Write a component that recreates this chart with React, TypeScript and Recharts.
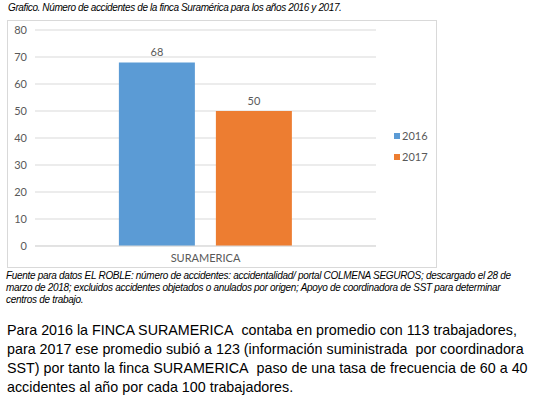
import React from "react";
import { BarChart, Bar, XAxis, YAxis, CartesianGrid, LabelList } from "recharts";

const categories = ["SURAMERICA"];
const values2016 = [68];
const values2017 = [50];
const yTicks = [0, 10, 20, 30, 40, 50, 60, 70, 80];
const seriesNames = ["2016", "2017"];

const data = categories.map((name, i) => ({ name, y2016: values2016[i], y2017: values2017[i] }));

const BLUE = "#5B9BD5";
const ORANGE = "#ED7D31";
const GREY = "#595959";
const FONT = "Lato, 'Open Sans', sans-serif";

function LegendBox() {
  const colors = [BLUE, ORANGE];
  return (
    <div style={{ position: "absolute", left: 394, top: 125, fontFamily: FONT, fontSize: 11, color: GREY }}>
      {seriesNames.map((s, i) => (
        <div key={s} style={{ display: "flex", alignItems: "center", height: 21 }}>
          <span style={{ width: 6, height: 6, background: colors[i], marginRight: 2, display: "inline-block" }} />
          {s}
        </div>
      ))}
    </div>
  );
}

export default function App() {
  const italic: React.CSSProperties = {
    position: "absolute",
    fontFamily: "'Liberation Sans', Arial, sans-serif",
    fontStyle: "italic",
    fontSize: 10,
    whiteSpace: "nowrap",
    color: "#000",
  };
  return (
    <div style={{ position: "fixed", left: 0, top: 0, width: 546, height: 398, background: "#fff" }}>
      <div style={{ ...italic, left: 8, top: 2, lineHeight: "12px", letterSpacing: -0.38 }}>
        Grafico. Número de accidentes de la finca Suramérica para los años 2016 y 2017.
      </div>
      <div style={{ position: "absolute", left: 7, top: 20, width: 430, height: 248, border: "1px solid #d9d9d9", boxSizing: "border-box" }}>
        <BarChart
          width={428}
          height={246}
          data={data}
          margin={{ top: 9, right: 60, bottom: 0, left: 1 }}
          barCategoryGap="24.6%"
          barGap={21}
        >
          <CartesianGrid vertical={false} stroke="#d9d9d9" />
          <XAxis
            dataKey="name"
            axisLine={{ stroke: "#d9d9d9" }}
            tickLine={false}
            height={21}
            tick={{ fontSize: 11, fill: GREY, fontFamily: FONT }}
          />
          <YAxis
            width={26}
            domain={[0, 80]}
            ticks={yTicks}
            axisLine={false}
            tickLine={false}
            tick={{ fontSize: 11, fill: GREY, fontFamily: FONT }}
          />
          <Bar dataKey="y2016" name={seriesNames[0]} fill={BLUE} isAnimationActive={false}>
            <LabelList dataKey="y2016" position="top" offset={6} fill={GREY} fontSize={11} fontFamily={FONT} />
          </Bar>
          <Bar dataKey="y2017" name={seriesNames[1]} fill={ORANGE} isAnimationActive={false}>
            <LabelList dataKey="y2017" position="top" offset={6} fill={GREY} fontSize={11} fontFamily={FONT} />
          </Bar>
        </BarChart>
      </div>
      <LegendBox />
      <div style={{ ...italic, left: 6, top: 270, lineHeight: "12px", letterSpacing: -0.3 }}>
        Fuente para datos EL ROBLE: número de accidentes: accidentalidad/ portal COLMENA SEGUROS; descargado el 28 de
        <br />
        marzo de 2018; excluidos accidentes objetados o anulados por origen; Apoyo de coordinadora de SST para determinar
        <br />
        centros de trabajo.
      </div>
      <div
        style={{
          position: "absolute",
          left: 7,
          top: 321,
          fontFamily: "'Liberation Sans', Arial, sans-serif",
          fontSize: 14.3,
          lineHeight: "19.1px",
          whiteSpace: "nowrap",
          color: "#000",
        }}
      >
        Para 2016 la FINCA SURAMERICA&nbsp; contaba en promedio con 113 trabajadores,
        <br />
        para 2017 ese promedio subió a 123 (información suministrada&nbsp; por coordinadora
        <br />
        SST) por tanto la finca SURAMERICA&nbsp; paso de una tasa de frecuencia de 60 a 40
        <br />
        accidentes al año por cada 100 trabajadores.
      </div>
    </div>
  );
}
